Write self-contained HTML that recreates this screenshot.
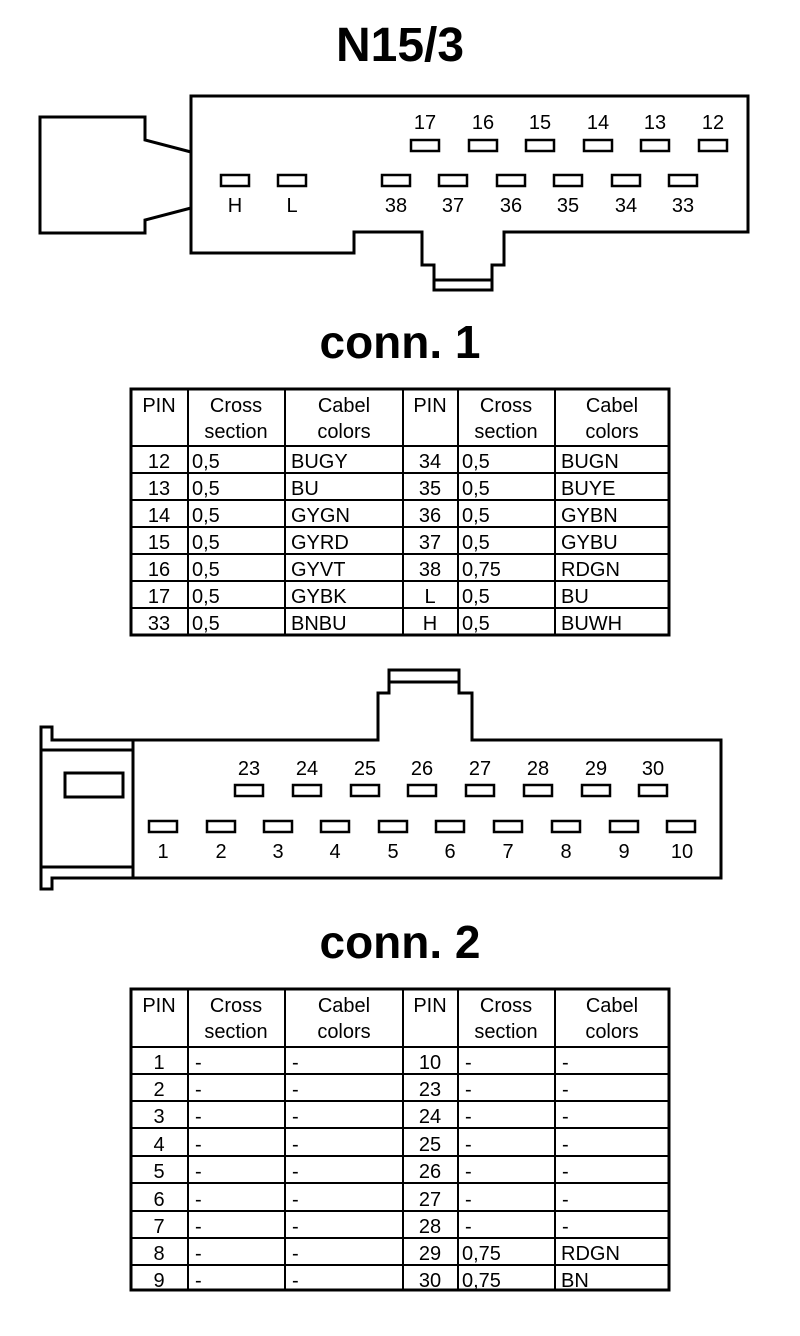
<!DOCTYPE html>
<html><head><meta charset="utf-8"><style>
html,body{margin:0;padding:0;background:#fff;}
svg{display:block;}
text{font-family:"Liberation Sans",Arial,sans-serif;fill:#000;}
</style></head><body>
<svg width="800" height="1336" viewBox="0 0 800 1336" xmlns="http://www.w3.org/2000/svg">
<g text-anchor="middle" font-weight="bold">
<text x="400" y="61" font-size="48">N15/3</text>
<text x="400" y="358" font-size="46">conn. 1</text>
<text x="400" y="958" font-size="46">conn. 2</text>
</g>

<!-- Connector 1 -->
<g fill="none" stroke="#000" stroke-width="3">
<path d="M191,96 H748 V232 H504 V265 H492 V290 H434 V265 H422 V232 H354 V253 H191 Z"/>
<line x1="434" y1="280" x2="492" y2="280"/>
<path d="M191,152 L145,140 V117 H40 V233 H145 V220 L191,208"/>
</g>
<g fill="none" stroke="#000" stroke-width="2.5">
<rect x="411" y="140" width="28" height="11"/>
<rect x="469" y="140" width="28" height="11"/>
<rect x="526" y="140" width="28" height="11"/>
<rect x="584" y="140" width="28" height="11"/>
<rect x="641" y="140" width="28" height="11"/>
<rect x="699" y="140" width="28" height="11"/>
<rect x="221" y="175" width="28" height="11"/>
<rect x="278" y="175" width="28" height="11"/>
<rect x="382" y="175" width="28" height="11"/>
<rect x="439" y="175" width="28" height="11"/>
<rect x="497" y="175" width="28" height="11"/>
<rect x="554" y="175" width="28" height="11"/>
<rect x="612" y="175" width="28" height="11"/>
<rect x="669" y="175" width="28" height="11"/>
</g>
<g font-size="20" text-anchor="middle">
<text x="425" y="129">17</text><text x="483" y="129">16</text><text x="540" y="129">15</text>
<text x="598" y="129">14</text><text x="655" y="129">13</text><text x="713" y="129">12</text>
<text x="235" y="212">H</text><text x="292" y="212">L</text>
<text x="396" y="212">38</text><text x="453" y="212">37</text><text x="511" y="212">36</text>
<text x="568" y="212">35</text><text x="626" y="212">34</text><text x="683" y="212">33</text>
</g>

<!-- Table 1 -->
<g fill="none" stroke="#000">
<rect x="131" y="389" width="538" height="246" stroke-width="3"/>
<g stroke-width="2">
<line x1="188" y1="389" x2="188" y2="635"/>
<line x1="285" y1="389" x2="285" y2="635"/>
<line x1="403" y1="389" x2="403" y2="635"/>
<line x1="458" y1="389" x2="458" y2="635"/>
<line x1="555" y1="389" x2="555" y2="635"/>
<line x1="131" y1="446" x2="669" y2="446"/>
<line x1="131" y1="473" x2="669" y2="473"/>
<line x1="131" y1="500" x2="669" y2="500"/>
<line x1="131" y1="527" x2="669" y2="527"/>
<line x1="131" y1="554" x2="669" y2="554"/>
<line x1="131" y1="581" x2="669" y2="581"/>
<line x1="131" y1="608" x2="669" y2="608"/>
</g></g>
<g font-size="20">
<g text-anchor="middle">
<text x="159" y="412">PIN</text><text x="236" y="412">Cross</text><text x="236" y="438">section</text>
<text x="344" y="412">Cabel</text><text x="344" y="438">colors</text>
<text x="430" y="412">PIN</text><text x="506" y="412">Cross</text><text x="506" y="438">section</text>
<text x="612" y="412">Cabel</text><text x="612" y="438">colors</text>
<text x="159" y="468">12</text><text x="159" y="495">13</text><text x="159" y="522">14</text><text x="159" y="549">15</text>
<text x="159" y="576">16</text><text x="159" y="603">17</text><text x="159" y="630">33</text>
<text x="430" y="468">34</text><text x="430" y="495">35</text><text x="430" y="522">36</text><text x="430" y="549">37</text>
<text x="430" y="576">38</text><text x="430" y="603">L</text><text x="430" y="630">H</text>
</g>
<text x="192" y="468">0,5</text><text x="192" y="495">0,5</text><text x="192" y="522">0,5</text><text x="192" y="549">0,5</text>
<text x="192" y="576">0,5</text><text x="192" y="603">0,5</text><text x="192" y="630">0,5</text>
<text x="291" y="468">BUGY</text><text x="291" y="495">BU</text><text x="291" y="522">GYGN</text><text x="291" y="549">GYRD</text>
<text x="291" y="576">GYVT</text><text x="291" y="603">GYBK</text><text x="291" y="630">BNBU</text>
<text x="462" y="468">0,5</text><text x="462" y="495">0,5</text><text x="462" y="522">0,5</text><text x="462" y="549">0,5</text>
<text x="462" y="576">0,75</text><text x="462" y="603">0,5</text><text x="462" y="630">0,5</text>
<text x="561" y="468">BUGN</text><text x="561" y="495">BUYE</text><text x="561" y="522">GYBN</text><text x="561" y="549">GYBU</text>
<text x="561" y="576">RDGN</text><text x="561" y="603">BU</text><text x="561" y="630">BUWH</text>
</g>

<!-- Connector 2 -->
<g fill="none" stroke="#000" stroke-width="3">
<path d="M52,740 H378 V693 H389 V670 H459 V693 H472 V740 H721 V878 H52 V889 H41 V727 H52 Z"/>
<line x1="389" y1="682" x2="459" y2="682"/>
<line x1="133" y1="740" x2="133" y2="878"/>
<line x1="41" y1="750" x2="133" y2="750"/>
<line x1="41" y1="867" x2="133" y2="867"/>
<rect x="65" y="773" width="58" height="24"/>
</g>
<g fill="none" stroke="#000" stroke-width="2.5">
<rect x="235" y="785" width="28" height="11"/>
<rect x="293" y="785" width="28" height="11"/>
<rect x="351" y="785" width="28" height="11"/>
<rect x="408" y="785" width="28" height="11"/>
<rect x="466" y="785" width="28" height="11"/>
<rect x="524" y="785" width="28" height="11"/>
<rect x="582" y="785" width="28" height="11"/>
<rect x="639" y="785" width="28" height="11"/>
<rect x="149" y="821" width="28" height="11"/>
<rect x="207" y="821" width="28" height="11"/>
<rect x="264" y="821" width="28" height="11"/>
<rect x="321" y="821" width="28" height="11"/>
<rect x="379" y="821" width="28" height="11"/>
<rect x="436" y="821" width="28" height="11"/>
<rect x="494" y="821" width="28" height="11"/>
<rect x="552" y="821" width="28" height="11"/>
<rect x="610" y="821" width="28" height="11"/>
<rect x="667" y="821" width="28" height="11"/>
</g>
<g font-size="20" text-anchor="middle">
<text x="249" y="775">23</text><text x="307" y="775">24</text><text x="365" y="775">25</text><text x="422" y="775">26</text>
<text x="480" y="775">27</text><text x="538" y="775">28</text><text x="596" y="775">29</text><text x="653" y="775">30</text>
<text x="163" y="858">1</text><text x="221" y="858">2</text><text x="278" y="858">3</text><text x="335" y="858">4</text>
<text x="393" y="858">5</text><text x="450" y="858">6</text><text x="508" y="858">7</text><text x="566" y="858">8</text>
<text x="624" y="858">9</text><text x="682" y="858">10</text>
</g>

<!-- Table 2 -->
<g fill="none" stroke="#000">
<rect x="131" y="989" width="538" height="301" stroke-width="3"/>
<g stroke-width="2">
<line x1="188" y1="989" x2="188" y2="1290"/>
<line x1="285" y1="989" x2="285" y2="1290"/>
<line x1="403" y1="989" x2="403" y2="1290"/>
<line x1="458" y1="989" x2="458" y2="1290"/>
<line x1="555" y1="989" x2="555" y2="1290"/>
<line x1="131" y1="1047" x2="669" y2="1047"/>
<line x1="131" y1="1074" x2="669" y2="1074"/>
<line x1="131" y1="1101" x2="669" y2="1101"/>
<line x1="131" y1="1128" x2="669" y2="1128"/>
<line x1="131" y1="1156" x2="669" y2="1156"/>
<line x1="131" y1="1183" x2="669" y2="1183"/>
<line x1="131" y1="1211" x2="669" y2="1211"/>
<line x1="131" y1="1238" x2="669" y2="1238"/>
<line x1="131" y1="1265" x2="669" y2="1265"/>
</g></g>
<g font-size="20">
<g text-anchor="middle">
<text x="159" y="1012">PIN</text><text x="236" y="1012">Cross</text><text x="236" y="1038">section</text>
<text x="344" y="1012">Cabel</text><text x="344" y="1038">colors</text>
<text x="430" y="1012">PIN</text><text x="506" y="1012">Cross</text><text x="506" y="1038">section</text>
<text x="612" y="1012">Cabel</text><text x="612" y="1038">colors</text>
<text x="159" y="1069">1</text><text x="159" y="1096">2</text><text x="159" y="1123">3</text><text x="159" y="1151">4</text>
<text x="159" y="1178">5</text><text x="159" y="1206">6</text><text x="159" y="1233">7</text><text x="159" y="1260">8</text><text x="159" y="1287">9</text>
<text x="430" y="1069">10</text><text x="430" y="1096">23</text><text x="430" y="1123">24</text><text x="430" y="1151">25</text>
<text x="430" y="1178">26</text><text x="430" y="1206">27</text><text x="430" y="1233">28</text><text x="430" y="1260">29</text><text x="430" y="1287">30</text>
</g>
<g>
<text x="195" y="1069">-</text><text x="195" y="1096">-</text><text x="195" y="1123">-</text><text x="195" y="1151">-</text>
<text x="195" y="1178">-</text><text x="195" y="1206">-</text><text x="195" y="1233">-</text><text x="195" y="1260">-</text><text x="195" y="1287">-</text>
<text x="292" y="1069">-</text><text x="292" y="1096">-</text><text x="292" y="1123">-</text><text x="292" y="1151">-</text>
<text x="292" y="1178">-</text><text x="292" y="1206">-</text><text x="292" y="1233">-</text><text x="292" y="1260">-</text><text x="292" y="1287">-</text>
<text x="465" y="1069">-</text><text x="465" y="1096">-</text><text x="465" y="1123">-</text><text x="465" y="1151">-</text>
<text x="465" y="1178">-</text><text x="465" y="1206">-</text><text x="465" y="1233">-</text>
<text x="462" y="1260">0,75</text><text x="462" y="1287">0,75</text>
<text x="562" y="1069">-</text><text x="562" y="1096">-</text><text x="562" y="1123">-</text><text x="562" y="1151">-</text>
<text x="562" y="1178">-</text><text x="562" y="1206">-</text><text x="562" y="1233">-</text>
<text x="561" y="1260">RDGN</text><text x="561" y="1287">BN</text>
</g>
</g>
</svg>
</body></html>
